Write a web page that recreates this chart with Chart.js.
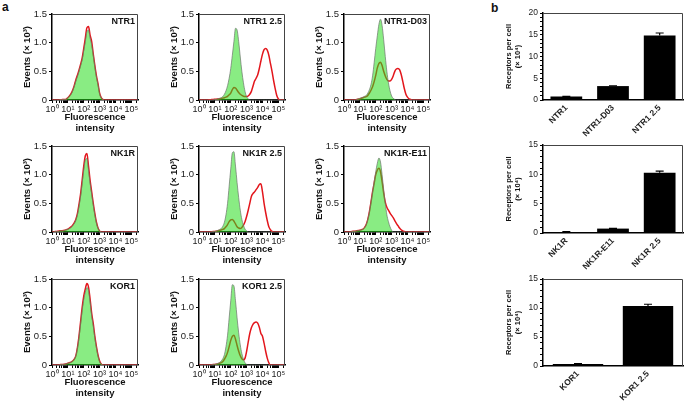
<!DOCTYPE html>
<html>
<head>
<meta charset="utf-8">
<script src="https://cdn.jsdelivr.net/npm/chart.js@4.4.0/dist/chart.umd.min.js"></script>
<style>
  body { margin: 0; background: #fff; width: 685px; height: 401px; position: relative; overflow: hidden;
         font-family: 'Liberation Sans', Arial, sans-serif; }
  .panel-letter { position: absolute; font-weight: bold; font-size: 12px; color: #111; }
</style>
</head>
<body>
<div class="panel-letter" style="left:2px;top:0px">a</div>
<div class="panel-letter" style="left:491px;top:1px">b</div>
<script>
// ---- histogram data: events (x 10^3) per 0.1-decade bin of fluorescence ----
const decades = [0,0.1,0.2,0.3,0.4,0.5,0.6,0.7,0.8,0.9, 1,1.1,1.2,1.3,1.4,1.5,1.6,1.7,1.8,1.9,
  2,2.1,2.2,2.3,2.4,2.5,2.6,2.7,2.8,2.9, 3,3.1,3.2,3.3,3.4,3.5,3.6,3.7,3.8,3.9,
  4,4.1,4.2,4.3,4.4,4.5,4.6,4.7,4.8,4.9, 5,5.1,5.2,5.3,5.4];

const ntr1Ctrl = [0,0,0,0,0,0.005,0.005,0.01,0.01,0.015, 0.04,0.07,0.1,0.16,0.24,0.33,0.41,0.5,0.6,0.7,
  0.86,1.02,1.19,1.22,1.08,0.96,0.78,0.58,0.4,0.27, 0.11,0.04,0.01,0,0,0,0,0,0,0, 0,0,0,0,0,0,0,0,0,0, 0,0,0,0,0];
const ntr1Red = [0,0,0,0,0,0.005,0.005,0.01,0.01,0.015, 0.04,0.07,0.11,0.17,0.25,0.35,0.43,0.52,0.62,0.73,
  0.9,1.08,1.26,1.28,1.13,1.02,0.8,0.6,0.42,0.28, 0.12,0.04,0.01,0,0,0,0,0,0,0, 0,0,0,0,0,0,0,0,0,0, 0,0,0,0,0];

const ntr25Ctrl = [0,0,0,0,0,0,0,0,0,0.005, 0.01,0.012,0.02,0.03,0.04,0.06,0.1,0.16,0.25,0.38,
  0.55,0.78,1.02,1.25,1.22,1.02,0.75,0.5,0.3,0.15, 0.06,0.02,0,0,0,0,0,0,0,0, 0,0,0,0,0,0,0,0,0,0, 0,0,0,0,0];
const ntr25Red = [0,0,0,0,0,0,0.003,0.005,0.007,0.01, 0.012,0.015,0.018,0.022,0.027,0.033,0.04,0.05,0.065,0.09,
  0.12,0.18,0.22,0.21,0.17,0.13,0.1,0.08,0.065,0.06, 0.06,0.07,0.1,0.15,0.24,0.33,0.38,0.44,0.55,0.68,
  0.8,0.88,0.9,0.87,0.78,0.64,0.5,0.34,0.2,0.08, 0.02,0,0,0,0];

const d03Ctrl = [0,0,0,0,0,0,0,0,0.01,0.02, 0.03,0.04,0.05,0.065,0.08,0.12,0.18,0.27,0.42,0.65,
  0.9,1.12,1.32,1.41,1.3,1.05,0.76,0.5,0.3,0.16, 0.07,0.03,0.01,0,0,0,0,0,0,0, 0,0,0,0,0,0,0,0,0,0, 0,0,0,0,0];
const d03Red = [0,0,0,0,0,0,0,0,0.01,0.015, 0.02,0.03,0.04,0.05,0.06,0.08,0.12,0.17,0.23,0.32,
  0.43,0.56,0.64,0.66,0.6,0.5,0.42,0.36,0.33,0.33, 0.36,0.42,0.5,0.54,0.55,0.53,0.45,0.33,0.2,0.1,
  0.05,0.02,0.01,0,0,0,0,0,0,0, 0,0,0,0,0];

const nk1Ctrl = [0,0,0.01,0.01,0.01,0.02,0.02,0.02,0.03,0.04, 0.05,0.06,0.08,0.11,0.15,0.21,0.3,0.45,0.62,0.85,
  1.08,1.26,1.28,1.08,0.85,0.66,0.47,0.3,0.16,0.07, 0.02,0,0,0,0,0,0,0,0,0, 0,0,0,0,0,0,0,0,0,0, 0,0,0,0,0];
const nk1Red = [0,0,0.01,0.01,0.015,0.02,0.02,0.025,0.03,0.04, 0.05,0.07,0.09,0.12,0.16,0.22,0.32,0.48,0.66,0.9,
  1.15,1.33,1.37,1.15,0.9,0.7,0.5,0.32,0.17,0.07, 0.02,0,0,0,0,0,0,0,0,0, 0,0,0,0,0,0,0,0,0,0, 0,0,0,0,0];

const nk25Ctrl = [0,0,0,0,0,0,0,0,0.005,0.008, 0.01,0.02,0.03,0.045,0.06,0.1,0.17,0.3,0.5,0.8,
  1.1,1.38,1.4,1.15,0.86,0.6,0.38,0.22,0.12,0.05, 0.02,0,0,0,0,0,0,0,0,0, 0,0,0,0,0,0,0,0,0,0, 0,0,0,0,0];
const nk25Red = [0,0,0,0,0,0,0,0,0.005,0.008, 0.01,0.015,0.02,0.028,0.035,0.045,0.06,0.09,0.13,0.18,
  0.21,0.22,0.19,0.14,0.09,0.07,0.06,0.08,0.12,0.18, 0.27,0.38,0.5,0.62,0.67,0.7,0.74,0.78,0.83,0.84,
  0.7,0.5,0.34,0.2,0.09,0.04,0.01,0,0,0, 0,0,0,0,0];

const e11Ctrl = [0,0,0,0,0,0.01,0.012,0.015,0.02,0.025, 0.03,0.04,0.05,0.08,0.13,0.22,0.35,0.52,0.7,0.88,
  1.05,1.2,1.29,1.22,1.0,0.74,0.5,0.3,0.18,0.09, 0.03,0,0,0,0,0,0,0,0,0, 0,0,0,0,0,0,0,0,0,0, 0,0,0,0,0];
const e11Red = [0,0,0,0,0,0.01,0.012,0.015,0.02,0.025, 0.03,0.04,0.05,0.08,0.13,0.22,0.35,0.52,0.7,0.85,
  1.0,1.08,1.11,1.05,0.88,0.68,0.52,0.43,0.38,0.33, 0.29,0.25,0.2,0.15,0.11,0.07,0.04,0.02,0.01,0,
  0,0,0,0,0,0,0,0,0,0, 0,0,0,0,0];

const kor1Ctrl = [0,0,0,0,0,0.005,0.01,0.01,0.015,0.02, 0.03,0.04,0.05,0.07,0.1,0.16,0.29,0.48,0.71,0.95,
  1.14,1.27,1.35,1.3,1.1,0.86,0.68,0.47,0.3,0.16, 0.06,0.02,0,0,0,0,0,0,0,0, 0,0,0,0,0,0,0,0,0,0, 0,0,0,0,0];
const kor1Red = [0,0,0,0,0,0.005,0.01,0.01,0.015,0.02, 0.03,0.04,0.05,0.07,0.1,0.16,0.3,0.5,0.75,1.0,
  1.2,1.33,1.42,1.36,1.15,0.9,0.72,0.5,0.32,0.17, 0.07,0.02,0,0,0,0,0,0,0,0, 0,0,0,0,0,0,0,0,0,0, 0,0,0,0,0];

const kor25Ctrl = [0,0,0,0,0,0,0,0,0.005,0.01, 0.012,0.02,0.03,0.045,0.07,0.11,0.18,0.32,0.52,0.82,
  1.12,1.4,1.38,1.12,0.82,0.56,0.35,0.2,0.1,0.04, 0.01,0,0,0,0,0,0,0,0,0, 0,0,0,0,0,0,0,0,0,0, 0,0,0,0,0];
const kor25Red = [0,0,0,0,0,0,0,0,0.005,0.008, 0.01,0.015,0.02,0.03,0.04,0.06,0.1,0.15,0.22,0.32,
  0.43,0.5,0.52,0.45,0.34,0.24,0.16,0.11,0.09,0.12, 0.24,0.4,0.55,0.65,0.71,0.74,0.75,0.73,0.66,0.55,
  0.5,0.38,0.24,0.12,0.04,0,0,0,0,0, 0,0,0,0,0];

const xTickLabels = ['10⁰', '10¹', '10²', '10³', '10⁴', '10⁵'];
const yTickLabels = ['0', '0.5', '1.0', '1.5'];

// ---- receptor counts (x 10^4) ----
const ntrCats = ['NTR1', 'NTR1-D03', 'NTR1 2.5'];
const ntrVals = [0.8, 3.2, 14.8];
const ntrErr = [0.05, 0.08, 0.6];
const nk1Cats = ['NK1R', 'NK1R-E11', 'NK1R 2.5'];
const nk1Vals = [0.12, 0.75, 10.25];
const nk1Err = [0.1, 0.05, 0.3];
const korCats = ['KOR1', 'KOR1 2.5'];
const korVals = [0.35, 10.35];
const korErr = [0.05, 0.3];

Chart.defaults.font.family = "'Liberation Sans', Arial, sans-serif";
Chart.defaults.color = '#222';
Chart.defaults.animation = false;

// top + right edges of the plot box
Chart.register({
  id: 'frame',
  afterDraw(chart) {
    const { ctx, chartArea: a } = chart;
    ctx.save();
    ctx.strokeStyle = '#444';
    ctx.lineWidth = 1;
    ctx.beginPath();
    ctx.moveTo(a.left, a.top + 0.5);
    ctx.lineTo(a.right - 0.5, a.top + 0.5);
    ctx.lineTo(a.right - 0.5, a.bottom);
    ctx.stroke();
    ctx.restore();
  }
});

Chart.register({
  id: 'panelTitle',
  afterDraw(chart, args, opts) {
    if (!opts.text) return;
    const { ctx, chartArea: a } = chart;
    ctx.save();
    ctx.font = "bold 9px 'Liberation Sans', Arial, sans-serif";
    ctx.fillStyle = '#111';
    ctx.textAlign = 'right';
    ctx.textBaseline = 'top';
    ctx.fillText(opts.text, a.right - 3, a.top + 3);
    ctx.restore();
  }
});

Chart.register({
  id: 'errorBars',
  afterDatasetsDraw(chart, args, opts) {
    if (!opts.errors) return;
    const { ctx } = chart;
    const y = chart.scales.y;
    const vals = chart.data.datasets[0].data;
    ctx.save();
    ctx.strokeStyle = '#000';
    ctx.lineWidth = 1.2;
    chart.getDatasetMeta(0).data.forEach((bar, i) => {
      const yTop = y.getPixelForValue(vals[i] + opts.errors[i]);
      ctx.beginPath();
      ctx.moveTo(bar.x, bar.y);
      ctx.lineTo(bar.x, yTop);
      ctx.moveTo(bar.x - 4, yTop);
      ctx.lineTo(bar.x + 4, yTop);
      ctx.stroke();
    });
    ctx.restore();
  }
});

function makeCanvas(left, top, w, h) {
  const c = document.createElement('canvas');
  c.width = w;
  c.height = h;
  c.style.cssText = `position:absolute;left:${left}px;top:${top}px;width:${w}px;height:${h}px`;
  document.body.appendChild(c);
  return c;
}

function histogram(left, top, name, ctrl, sample) {
  const pts = vals => decades.map((d, i) => ({ x: Math.pow(10, d), y: vals[i] }));
  new Chart(makeCanvas(left, top, 146, 134), {
    type: 'line',
    data: {
      datasets: [
        { data: pts(ctrl), fill: 'origin', backgroundColor: 'rgba(40,220,30,0.55)',
          borderColor: 'rgba(110,120,110,0.9)', borderWidth: 0.8 },
        { data: pts(sample), fill: false, borderColor: '#e3161c', borderWidth: 1.5 }
      ]
    },
    options: {
      responsive: false,
      layout: { padding: { top: 14, right: 8, left: 0, bottom: 0 } },
      elements: { point: { radius: 0 }, line: { cubicInterpolationMode: 'monotone' } },
      plugins: { legend: { display: false }, tooltip: { enabled: false }, panelTitle: { text: name } },
      scales: {
        x: {
          type: 'logarithmic', min: 1, max: 262144,
          afterFit: s => { s.height = 34; },
          afterBuildTicks: s => {
            const t = [];
            for (let e = 0; e <= 5; e++) for (let k = 1; k <= 9; k++) {
              const v = k * Math.pow(10, e);
              if (v <= 262144) t.push({ value: v });
            }
            s.ticks = t;
          },
          border: { color: '#000', width: 1.5 },
          grid: { drawOnChartArea: false, color: '#000', tickLength: 3 },
          ticks: {
            autoSkip: false, maxRotation: 0, minRotation: 0, padding: 1,
            font: { size: 9 }, color: '#222',
            callback: v => {
              const e = Math.log10(v), i = Math.round(e);
              return Math.abs(e - i) < 1e-9 && i <= 5 ? xTickLabels[i] : '';
            }
          },
          title: { display: true, text: ['Fluorescence', 'intensity'], color: '#111',
                   font: { size: 9.5, weight: 'bold', lineHeight: 1.2 }, padding: { top: 0, bottom: 0 } }
        },
        y: {
          min: 0, max: 1.5,
          afterFit: s => { s.width = 52; },
          border: { color: '#000', width: 1.5 },
          grid: { drawOnChartArea: false, color: '#000', tickLength: 3 },
          ticks: { stepSize: 0.5, padding: 2, font: { size: 9.5 }, color: '#222',
                   callback: v => yTickLabels[Math.round(v / 0.5)] },
          title: { display: true, text: 'Events (× 10³)', color: '#111',
                   font: { size: 9.5, weight: 'bold', lineHeight: 1.2 }, padding: { top: 22, bottom: 0 } }
        }
      }
    }
  });
}

function receptorBars(top, h, axisH, cats, vals, errs, yMax, barPct) {
  new Chart(makeCanvas(500, top, 185, h), {
    type: 'bar',
    data: {
      labels: cats,
      datasets: [{ data: vals, backgroundColor: '#000', barPercentage: barPct, categoryPercentage: 1 }]
    },
    options: {
      responsive: false,
      layout: { padding: { top: 13, right: 2, left: 0, bottom: 0 } },
      plugins: { legend: { display: false }, tooltip: { enabled: false }, errorBars: { errors: errs } },
      scales: {
        x: {
          afterFit: s => { s.height = axisH; },
          border: { color: '#000', width: 1.5 },
          grid: { display: false, drawTicks: false },
          ticks: { minRotation: 45, maxRotation: 45, padding: 3, color: '#222',
                   font: { size: 8.5, weight: 'bold' } }
        },
        y: {
          min: 0, max: yMax,
          afterFit: s => { s.width = 43; },
          border: { color: '#000', width: 1.5 },
          grid: { drawOnChartArea: false, color: '#000', tickLength: 3 },
          ticks: { stepSize: 1, autoSkip: false, padding: 2, font: { size: 8.5 }, color: '#222',
                   callback: v => (v % 5 === 0 ? String(v) : '') },
          title: { display: true, text: ['Receptors per cell', '(× 10⁴)'], color: '#111',
                   font: { size: 7.5, weight: 'bold', lineHeight: 1.15 }, padding: { top: 4.5, bottom: 0 } }
        }
      }
    }
  });
}

histogram(0, 0, 'NTR1', ntr1Ctrl, ntr1Red);
histogram(147, 0, 'NTR1 2.5', ntr25Ctrl, ntr25Red);
histogram(292, 0, 'NTR1-D03', d03Ctrl, d03Red);
histogram(0, 132, 'NK1R', nk1Ctrl, nk1Red);
histogram(147, 132, 'NK1R 2.5', nk25Ctrl, nk25Red);
histogram(292, 132, 'NK1R-E11', e11Ctrl, e11Red);
histogram(0, 265, 'KOR1', kor1Ctrl, kor1Red);
histogram(147, 265, 'KOR1 2.5', kor25Ctrl, kor25Red);

receptorBars(0, 140, 40, ntrCats, ntrVals, ntrErr, 20, 0.68);
receptorBars(132, 141, 40, nk1Cats, nk1Vals, nk1Err, 15, 0.68);
receptorBars(266, 135, 35, korCats, korVals, korErr, 15, 0.72);
</script>
</body>
</html>
